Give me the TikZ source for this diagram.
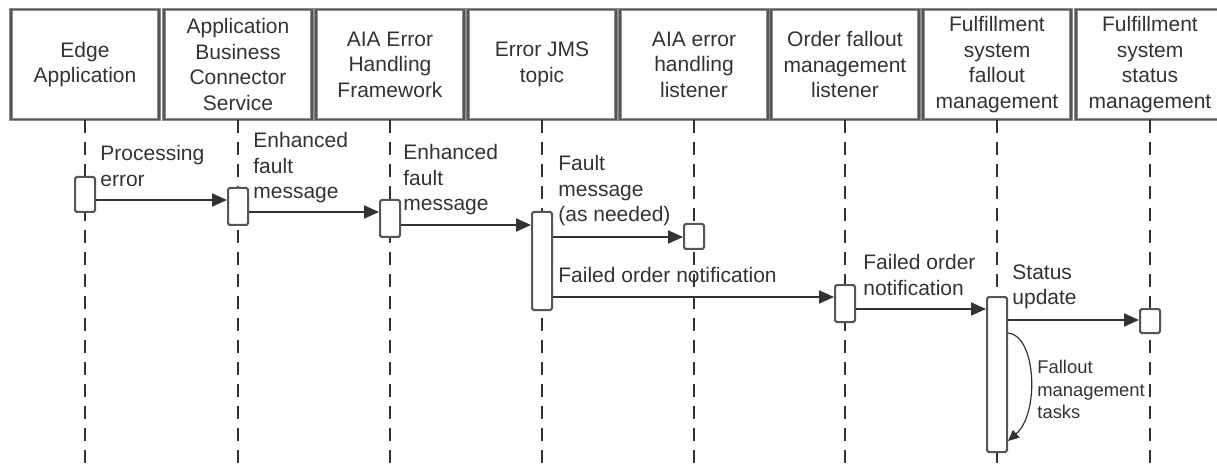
\documentclass[tikz,border=0pt]{standalone}
\usepackage{fontspec}
\setmainfont{Liberation Sans}
\usetikzlibrary{arrows.meta, positioning, calc}
\definecolor{ink}{HTML}{333333}
\definecolor{frame}{HTML}{555555}

\begin{document}
\begin{tikzpicture}[x=0.5pt, y=-0.5pt,
    font=\fontsize{10.5}{12.8}\selectfont, text=ink,
    head/.style={draw=frame, line width=0.6pt,
                 preaction={draw=black!45, line width=1.8pt},
                 minimum width=74pt, minimum height=55pt,
                 align=center, inner sep=0pt},
    life/.style={draw=ink, line width=0.9pt, dash pattern=on 6.5pt off 4.5pt},
    act/.style={draw=frame, fill=white, line width=1pt, rounded corners=0.8pt,
                minimum width=10pt, inner sep=0pt},
    msg/.style={draw=ink, line width=1pt, -{Triangle[length=7.5pt, width=6.5pt]}},
    selfmsg/.style={draw=ink, line width=0.6pt, -{Triangle[length=5.5pt, width=5pt]}},
    lbl/.style={anchor=north west, inner sep=0pt, align=left}]
  \useasboundingbox (0,0) rectangle (1217,465);
  % header boxes with their lifelines
  \foreach \x/\n/\txt in {85/h1/{Edge\\Application},
      238/h2/{Application\\Business\\Connector\\Service},
      390/h3/{AIA Error\\Handling\\Framework},
      542/h4/{Error JMS\\topic},
      694/h5/{AIA error\\handling\\listener},
      845/h6/{Order fallout\\management\\listener},
      997/h7/{Fulfillment\\system\\fallout\\management},
      1150/h8/{Fulfillment\\system\\status\\management}}{
    \node[head] (\n) at (\x,64.5) {\txt};
    \draw[life] (\n.south) -- (\n.south |- 0,465);
  }
  % activation bars
  \node[act, minimum height=17.5pt] (a1) at (h1 |- 0,194.5) {};
  \node[act, minimum height=18.5pt] (a2) at (h2 |- 0,206.5) {};
  \node[act, minimum height=18.5pt] (a3) at (h3 |- 0,218.5) {};
  \node[act, minimum height=49pt]   (a4) at (h4 |- 0,261) {};
  \node[act, minimum height=12.5pt] (a5) at (h5 |- 0,236.5) {};
  \node[act, minimum height=18.5pt] (a6) at (h6 |- 0,303.5) {};
  \node[act, minimum height=77.5pt] (a7) at (h7 |- 0,374.5) {};
  \node[act, minimum height=12pt]   (a8) at (h8 |- 0,321) {};
  % messages
  \draw[msg] (a1.east |- 0,200) -- (a2.west |- 0,200);
  \draw[msg] (a2.east |- 0,212) -- (a3.west |- 0,212);
  \draw[msg] (a3.east |- 0,225) -- (a4.west |- 0,225);
  \draw[msg] (a4.east |- 0,237) -- (a5.west |- 0,237);
  \draw[msg] (a4.east |- 0,297) -- (a6.west |- 0,297);
  \draw[msg] (a6.east |- 0,309) -- (a7.west |- 0,309);
  \draw[msg] (a7.east |- 0,320) -- (a8.west |- 0,320);
  \draw[selfmsg] (a7.east |- 0,333) .. controls (1036,335) and (1040,413)
                 .. (a7.east |- 0,441);
  % message labels
  \node[lbl] (l1) at (100,145) {Processing\\error};
  \node[lbl] (l2) at (253,132) {Enhanced\\fault\\message};
  \node[lbl] (l3) at (403,144) {Enhanced\\fault\\message};
  \node[lbl] (l4) at (558,155) {Fault\\message\\(as needed)};
  \node[lbl] (l5) at (558,267) {Failed order notification};
  \node[lbl] (l6) at (863,254) {Failed order\\notification};
  \node[lbl] (l7) at (1012,264) {Status\\update};
  \node[lbl, font=\fontsize{9.2}{11.3}\selectfont] (l8) at (1037,360)
       {Fallout\\management\\tasks};
\end{tikzpicture}
\end{document}
